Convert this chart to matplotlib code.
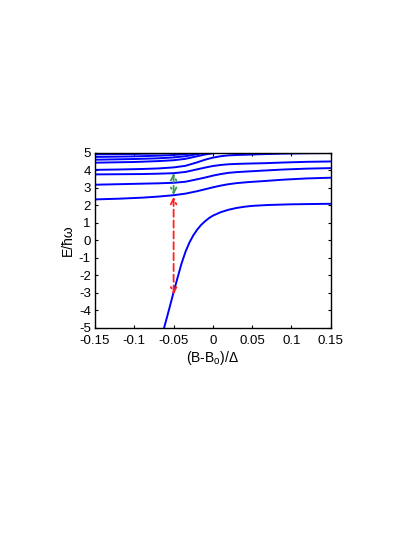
import matplotlib
matplotlib.use("Agg")
import matplotlib.pyplot as plt

plt.rcParams["font.family"] = ["Liberation Sans", "DejaVu Sans"]
plt.rcParams["mathtext.fontset"] = "custom"
plt.rcParams["mathtext.rm"] = "Liberation Sans"

# levels, E/hw against (B-B0)/Delta
x_low = [-0.062, -0.056, -0.0505, -0.045, -0.04, -0.035, -0.03, -0.025, -0.02,
         -0.015, -0.01, -0.005, 0.0, 0.01, 0.02, 0.03, 0.04, 0.05, 0.07, 0.1, 0.15]
e_low = [-5.0, -4.0, -3.06, -2.15, -1.35, -0.68, -0.15, 0.27, 0.6,
         0.87, 1.08, 1.26, 1.40, 1.60, 1.74, 1.84, 1.91, 1.96, 2.01, 2.05, 2.08]

x_mid = [-0.15, -0.12, -0.09, -0.07, -0.05, -0.035, -0.02, -0.01, 0.0,
         0.01, 0.02, 0.03, 0.045, 0.065, 0.09, 0.12, 0.15]
e_a = [2.33, 2.37, 2.43, 2.49, 2.57, 2.66, 2.80, 2.91, 3.02,
       3.12, 3.20, 3.26, 3.32, 3.38, 3.46, 3.53, 3.57]
e_b = [3.17, 3.20, 3.23, 3.25, 3.28, 3.34, 3.48, 3.58, 3.69,
       3.78, 3.85, 3.89, 3.93, 3.98, 4.04, 4.09, 4.12]
e_c = [3.76, 3.77, 3.78, 3.80, 3.83, 3.90, 4.05, 4.15, 4.24,
       4.30, 4.34, 4.36, 4.38, 4.40, 4.44, 4.48, 4.50]
e_d = [4.02, 4.04, 4.07, 4.10, 4.16, 4.25, 4.45, 4.60, 4.72,
       4.80, 4.85, 4.87, 4.89, 4.92, 4.95, 4.97, 4.98]

x_top = [-0.15, -0.1, -0.07, -0.05, -0.035, -0.02, -0.01, 0.0, 0.01]
e_e = [4.43, 4.47, 4.52, 4.57, 4.65, 4.80, 4.90, 4.97, 5.02]
e_f = [4.60, 4.64, 4.68, 4.73, 4.80, 4.92, 5.00, 5.05, 5.10]
e_g = [4.76, 4.79, 4.83, 4.87, 4.92, 5.00, 5.05, 5.10, 5.15]
e_h = [4.91, 4.93, 4.96, 4.99, 5.02, 5.06, 5.10, 5.15, 5.20]

x_arrow = -0.05
green_span = (2.58, 3.84)
red_span = (2.48, -3.12)


def main() -> None:
    fig = plt.figure(figsize=(4.15, 5.37), dpi=100)
    ax = fig.add_axes([0.229, 0.390, 0.568, 0.3256])

    kw = dict(color="#0000ff", lw=1.4)
    ax.plot(x_low, e_low, **kw)
    for e in (e_a, e_b, e_c, e_d):
        ax.plot(x_mid, e, **kw)
    for e in (e_e, e_f, e_g, e_h):
        ax.plot(x_top, e, **kw)

    for span, col in ((green_span, "#3a9a5a"), (red_span, "#ff2020")):
        ax.annotate("", xy=(x_arrow, span[1]), xytext=(x_arrow, span[0]),
                    arrowprops=dict(arrowstyle="<->", color=col, lw=1.3,
                                    linestyle=(0, (4, 2)), mutation_scale=10,
                                    shrinkA=0, shrinkB=0))

    ax.set_xlim(-0.15, 0.15)
    ax.set_ylim(-5, 5)
    ax.set_xticks([-0.15, -0.1, -0.05, 0, 0.05, 0.1, 0.15])
    ax.set_xticklabels(["-0.15", "-0.1", "-0.05", "0", "0.05", "0.1", "0.15"])
    ax.set_yticks(range(-5, 6))
    ax.set_yticklabels([str(v) for v in range(-5, 6)])
    ax.tick_params(direction="in", top=True, right=True, length=2.5,
                   width=0.8, labelsize=9.5)
    ax.tick_params(axis="x", pad=5)
    ax.tick_params(axis="y", pad=3)
    for s in ax.spines.values():
        s.set_linewidth(1.0)

    ax.set_xlabel("(B-B$_\\mathrm{o}$)/Δ", fontsize=10, labelpad=2)
    ax.set_ylabel("E/ħω", fontsize=10, labelpad=3)

    fig.savefig("out.png", dpi=100)


if __name__ == "__main__":
    main()
